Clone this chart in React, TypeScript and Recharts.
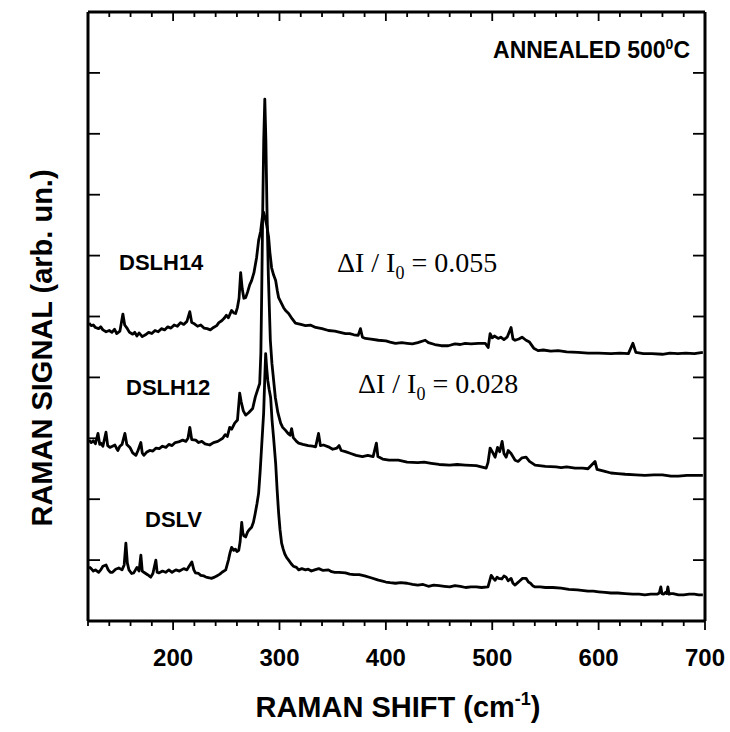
import React from 'react';
import { LineChart, Line, XAxis, YAxis } from 'recharts';

// Raman spectra: [shift cm^-1, signal arb. un.]
const dslh14: [number, number][] = [
  [121,4.89],[123,4.85],[125,4.86],[127,4.82],[130,4.80],[132,4.83],[134,4.78],[137,4.75],[140,4.77],[142.5,4.74],
  [145,4.79],[147,4.72],[150,4.76],[152.8,5.04],[154.5,4.86],[157,4.80],[159,4.74],[162,4.71],[164,4.74],[166,4.68],
  [168,4.73],[171,4.67],[174,4.70],[177,4.74],[180,4.72],[183,4.77],[186,4.75],[189,4.80],[192,4.78],[195,4.83],
  [198,4.81],[201,4.86],[204,4.84],[207,4.90],[210,4.87],[213,4.92],[215.7,5.08],[217.5,4.90],[220,4.88],[223,4.84],
  [226,4.86],[229,4.81],[232,4.80],[235,4.78],[238,4.82],[241,4.85],[243,4.90],[245.7,4.93],[248,4.97],[250,5.02],
  [252,4.98],[255,5.10],[257,5.06],[258.8,5.05],[260.5,5.15],[262,5.30],[263.5,5.72],[265,5.45],[266.5,5.30],[268.2,5.31],
  [270,5.40],[272,5.52],[273.8,5.59],[276,5.72],[278.5,5.97],[280.4,6.25],[282.3,6.40],[283.8,6.62],[285.1,6.71],[286.5,6.62],
  [288,6.50],[289.8,6.30],[291,6.05],[292.6,5.80],[294.5,5.68],[296.4,5.59],[298,5.42],[299.2,5.31],[302,5.21],[304,5.14],
  [305.7,5.10],[308.6,5.05],[312,4.96],[315,4.89],[320,4.87],[324.5,4.85],[329,4.86],[334,4.82],[340,4.80],[346,4.77],
  [352,4.76],[357,4.74],[362,4.72],[366,4.72],[370,4.70],[374,4.69],[376.1,4.80],[378,4.66],[380.8,4.64],[386,4.63],
  [393,4.61],[400,4.60],[404,4.58],[409,4.56],[415,4.57],[420,4.56],[425,4.55],[430,4.57],[437,4.61],[440,4.57],
  [446,4.54],[452,4.52],[458.6,4.52],[465,4.55],[470,4.54],[474.6,4.56],[480,4.55],[487,4.56],[493.4,4.56],[496.2,4.49],
  [498,4.72],[500,4.65],[502,4.68],[505.6,4.64],[508,4.66],[511,4.62],[514,4.66],[517.7,4.82],[519.5,4.63],[521.5,4.61],
  [525,4.63],[528,4.66],[531.8,4.61],[535,4.58],[539,4.48],[543.1,4.44],[548,4.45],[555,4.43],[562,4.44],[570,4.42],
  [580.6,4.41],[590,4.40],[600,4.40],[611.6,4.39],[620,4.40],[628,4.39],[632.2,4.56],[635,4.41],[642,4.39],[650,4.39],
  [660,4.38],[667,4.40],[674.5,4.39],[682,4.40],[690,4.39],[698,4.41],
];

const dslh12: [number, number][] = [
  [121,2.97],[123,2.93],[125,2.96],[127,2.91],[129.4,3.08],[131,2.90],[132.2,2.92],[134,2.87],[136.9,3.10],[138.5,2.88],
  [140.6,2.85],[143,2.87],[145.3,2.89],[147,2.83],[148.1,2.80],[150,2.87],[152,2.90],[154.7,3.08],[156.5,2.90],[159.4,2.85],
  [162,2.76],[165,2.72],[167,2.80],[169.7,2.93],[171,2.76],[172.5,2.72],[175,2.77],[178,2.80],[181,2.79],[184,2.84],
  [187,2.83],[190,2.87],[193.2,2.85],[196,2.90],[199,2.88],[202,2.93],[205,2.94],[209,2.97],[212,2.95],[214,3.00],
  [215.7,3.18],[217.5,2.98],[221.3,2.97],[224,2.93],[227,2.95],[230,2.91],[234.4,2.89],[238,2.93],[242,2.95],[246.6,3.00],
  [249,3.06],[251,3.03],[253.2,3.18],[255.1,3.15],[257.9,3.25],[260.5,3.30],[262.6,3.74],[264,3.60],[266,3.45],[268.2,3.38],
  [271,3.42],[274.8,3.49],[277.3,3.68],[279.5,3.80],[281.4,3.90],[282.5,4.40],[283.3,5.40],[284.2,6.70],[285.2,7.90],[286.2,8.57],
  [287.2,7.90],[288.2,6.80],[289.5,5.70],[291.4,4.61],[292.9,4.23],[294.5,3.95],[296.1,3.67],[298.5,3.42],[301.1,3.25],[303,3.18],
  [305.7,3.13],[308,3.08],[310,3.05],[311.4,3.16],[313,3.01],[316,2.95],[318,2.92],[322,2.90],[327,2.88],[331,2.87],
  [334,2.86],[336.7,3.08],[338.5,2.88],[341.4,2.89],[346,2.86],[350,2.82],[354,2.84],[356,2.88],[358,2.80],[362,2.78],
  [367,2.75],[372,2.72],[378,2.70],[383,2.72],[388,2.70],[391.1,2.92],[392.5,2.70],[397,2.66],[403,2.64],[411.7,2.64],
  [420,2.61],[430,2.60],[436,2.61],[442.7,2.59],[450,2.57],[460,2.56],[467,2.57],[474.6,2.56],[485,2.55],[494.3,2.51],
  [496,2.60],[498,2.84],[500,2.78],[502.7,2.69],[505,2.85],[507,2.78],[509.3,2.95],[511,2.75],[513.1,2.69],[515,2.80],
  [517.7,2.75],[521.5,2.64],[524.3,2.62],[528,2.68],[531.8,2.69],[535,2.62],[540.3,2.56],[550,2.54],[560,2.53],[564.7,2.52],
  [570,2.53],[577.8,2.51],[585,2.51],[590,2.50],[596.6,2.62],[598.5,2.49],[605,2.46],[611.6,2.43],[618,2.42],[625,2.41],
  [635,2.40],[643.5,2.39],[652,2.40],[660,2.40],[668,2.38],[675,2.38],[683,2.39],[690,2.39],[698,2.39],
];

const dslv: [number, number][] = [
  [121,0.89],[123,0.86],[125,0.82],[127,0.84],[130,0.80],[132,0.84],[134,0.90],[137,0.92],[139,0.84],[141,0.80],
  [143,0.80],[146,0.85],[149,0.87],[152,0.84],[154,0.92],[155.6,1.28],[157,0.95],[158.5,0.84],[161,0.78],[163,0.79],
  [166,0.88],[168,0.82],[169.7,1.08],[171,0.82],[172.5,0.80],[176,0.76],[179,0.72],[181,0.78],[183.8,1.00],[185,0.80],
  [186.6,0.79],[190,0.82],[193,0.80],[196,0.84],[199,0.80],[202.6,0.84],[206,0.82],[210,0.86],[213,0.84],[215,0.90],
  [217.6,0.97],[219.5,0.84],[221,0.79],[224,0.78],[226,0.75],[229,0.74],[231,0.72],[234,0.71],[236,0.70],[239,0.72],
  [241,0.74],[244,0.77],[246,0.80],[249.5,0.84],[252,1.00],[253.5,1.12],[255,1.21],[257,1.16],[258.5,1.18],[260,1.14],
  [261.7,1.16],[263,1.30],[264.5,1.62],[265.5,1.45],[266.5,1.40],[268.2,1.38],[270,1.46],[271.5,1.50],[273.8,1.54],[275.5,1.62],
  [277,1.75],[278.8,1.92],[280.4,2.10],[281.8,2.45],[283,2.80],[284.2,3.15],[285.1,3.41],[286.1,3.95],[287,4.39],[288,4.15],
  [289,3.95],[290.3,3.80],[291.7,3.67],[293,3.30],[294.5,3.00],[296.4,2.59],[297.8,2.15],[299.2,1.77],[300.5,1.50],[302,1.28],
  [303.5,1.18],[305,1.10],[306.8,1.04],[308.6,1.00],[311,0.94],[313,0.90],[316,0.88],[318,0.84],[321,0.86],[324.5,0.84],
  [327,0.85],[330,0.82],[333,0.84],[337,0.86],[341,0.83],[346,0.84],[349,0.81],[352,0.80],[356,0.80],[362,0.79],
  [366,0.77],[370,0.76],[375,0.76],[380,0.74],[386,0.71],[393,0.67],[396,0.66],[400,0.64],[404,0.63],[409,0.62],
  [414,0.63],[420,0.62],[425,0.60],[430,0.59],[435,0.60],[440,0.57],[445,0.59],[450,0.58],[455,0.57],[460,0.56],
  [465,0.58],[470,0.57],[475,0.55],[480,0.56],[485,0.56],[490,0.55],[496,0.56],[499,0.75],[501,0.70],[502.7,0.67],
  [504.5,0.72],[506,0.70],[509,0.69],[511,0.74],[513,0.72],[515,0.66],[517.7,0.70],[519.5,0.62],[521.5,0.59],[524,0.63],
  [526,0.66],[528.5,0.70],[531.8,0.70],[534,0.64],[536,0.62],[538,0.58],[540.3,0.56],[545,0.56],[550,0.55],[557,0.55],
  [564.7,0.54],[572,0.52],[580,0.51],[586,0.50],[590,0.49],[595,0.49],[600,0.48],[606,0.47],[611.6,0.46],[618,0.46],
  [625,0.45],[632,0.44],[638,0.44],[643.5,0.43],[649,0.44],[655,0.44],[657,0.46],[658.5,0.56],[659.5,0.45],[661,0.44],
  [663,0.47],[664,0.45],[665.1,0.56],[666.2,0.44],[668,0.45],[670,0.45],[675,0.43],[680,0.43],[685,0.44],[690,0.44],
  [694,0.43],[698,0.43],
];

const xTicks = [120,140,160,180,200,220,240,260,280,300,320,340,360,380,400,420,440,460,480,500,520,540,560,580,600,620,640,660,680,700];
const xLabelTicks = [200, 300, 400, 500, 600, 700];
const yTicks = [0, 1, 2, 3, 4, 5, 6, 7, 8, 9, 10];

const toRows = (pts: [number, number][]) => pts.map(([x, y]) => ({ x, y }));

const SANS = '"Liberation Sans", Arial, Helvetica, sans-serif';
const SERIF = '"Liberation Serif", "Times New Roman", serif';

const BottomTick = (props: any) => {
  const { x, y, payload } = props;
  const major = xLabelTicks.includes(payload.value);
  return (
    <g>
      <line x1={x} x2={x} y1={y} y2={y + (major ? 9 : 5)} stroke="#000" strokeWidth={1.8} />
      {major && (
        <text x={x} y={y + 45} textAnchor="middle" fontFamily={SANS} fontWeight="bold" fontSize={24} fill="#000">
          {payload.value}
        </text>
      )}
    </g>
  );
};

const TopTick = (props: any) => {
  const { x, y, payload } = props;
  const major = xLabelTicks.includes(payload.value);
  return <line x1={x} x2={x} y1={y} y2={y + (major ? 9 : 5)} stroke="#000" strokeWidth={1.8} />;
};

const LeftTick = (props: any) => {
  const { x, y } = props;
  return <line x1={x} x2={x + 12} y1={y} y2={y} stroke="#000" strokeWidth={1.8} />;
};

const RightTick = (props: any) => {
  const { x, y } = props;
  return <line x1={x} x2={x - 12} y1={y} y2={y} stroke="#000" strokeWidth={1.8} />;
};

const frame = { stroke: '#000', strokeWidth: 3 };

export default function App() {
  return (
    <div style={{ position: 'absolute', left: 0, top: 0, width: 730, height: 732, background: '#fff' }}>
      <LineChart width={730} height={732} margin={{ top: 2, right: 15, bottom: 81, left: 78 }}>
        <XAxis xAxisId="bottom" dataKey="x" type="number" domain={[120, 700]} allowDataOverflow
          ticks={xTicks} interval={0} height={30} tickSize={0} tickMargin={0} tickLine={false}
          axisLine={frame} tick={<BottomTick />} />
        <XAxis xAxisId="top" orientation="top" dataKey="x" type="number" domain={[120, 700]} allowDataOverflow
          ticks={xTicks} interval={0} height={10} tickSize={0} tickMargin={0} tickLine={false}
          axisLine={frame} tick={<TopTick />} />
        <YAxis yAxisId="left" type="number" domain={[0, 10]} allowDataOverflow ticks={yTicks} interval={0}
          width={10} tickSize={0} tickMargin={0} tickLine={false} axisLine={frame} tick={<LeftTick />} />
        <YAxis yAxisId="right" orientation="right" type="number" domain={[0, 10]} allowDataOverflow ticks={yTicks}
          interval={0} width={10} tickSize={0} tickMargin={0} tickLine={false} axisLine={frame} tick={<RightTick />} />
        <Line xAxisId="bottom" yAxisId="left" data={toRows(dslh14)} dataKey="y" type="linear" stroke="#000"
          strokeWidth={2.8} strokeLinejoin="round" dot={false} isAnimationActive={false} />
        <Line xAxisId="bottom" yAxisId="left" data={toRows(dslh12)} dataKey="y" type="linear" stroke="#000"
          strokeWidth={2.8} strokeLinejoin="round" dot={false} isAnimationActive={false} />
        <Line xAxisId="bottom" yAxisId="left" data={toRows(dslv)} dataKey="y" type="linear" stroke="#000"
          strokeWidth={2.8} strokeLinejoin="round" dot={false} isAnimationActive={false} />
      </LineChart>
      <svg width={730} height={732} style={{ position: 'absolute', left: 0, top: 0, pointerEvents: 'none' }}>
        <text x={690} y={58} textAnchor="end" fontFamily={SANS} fontWeight="bold" fontSize={23} fill="#000">
          ANNEALED 500<tspan dy={-9} fontSize={14}>0</tspan><tspan dy={9}>C</tspan>
        </text>
        <text x={119} y={270} fontFamily={SANS} fontWeight="bold" fontSize={22} fill="#000">DSLH14</text>
        <text x={126} y={395} fontFamily={SANS} fontWeight="bold" fontSize={22} fill="#000">DSLH12</text>
        <text x={145} y={527} fontFamily={SANS} fontWeight="bold" fontSize={22} fill="#000">DSLV</text>
        <text x={337} y={272} fontFamily={SERIF} fontSize={28} fill="#000">
          ΔI / I<tspan dy={7} fontSize={18}>0</tspan><tspan dy={-7}> = 0.055</tspan>
        </text>
        <text x={358} y={393} fontFamily={SERIF} fontSize={28} fill="#000">
          ΔI / I<tspan dy={7} fontSize={18}>0</tspan><tspan dy={-7}> = 0.028</tspan>
        </text>
        <text x={398} y={717} textAnchor="middle" fontFamily={SANS} fontWeight="bold" fontSize={29} fill="#000">
          RAMAN SHIFT  (cm<tspan dy={-12} fontSize={18}>-1</tspan><tspan dy={12}>)</tspan>
        </text>
        <text x={52} y={348} transform="rotate(-90 52 348)" textAnchor="middle" fontFamily={SANS} fontWeight="bold"
          fontSize={29} fill="#000">
          RAMAN SIGNAL  (arb. un.)
        </text>
      </svg>
    </div>
  );
}
